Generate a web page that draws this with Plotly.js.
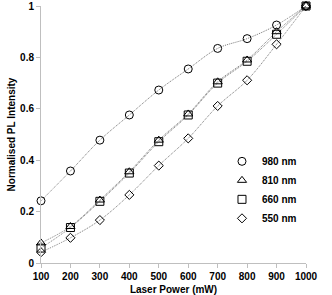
<!DOCTYPE html>
<html>
<head>
<meta charset="utf-8">
<script src="https://cdn.plot.ly/plotly-3.0.1.min.js"></script>
<style>
html,body{margin:0;padding:0;background:#fff;}
#chart{width:332px;height:295px;}
</style>
</head>
<body>
<div id="chart"></div>
<script>
var laserPower = [100, 200, 300, 400, 500, 600, 700, 800, 900, 1000];
var pl980 = [0.242, 0.358, 0.478, 0.576, 0.673, 0.755, 0.835, 0.873, 0.926, 1];
var pl810 = [0.078, 0.142, 0.245, 0.355, 0.478, 0.580, 0.705, 0.790, 0.900, 1];
var pl660 = [0.058, 0.138, 0.240, 0.350, 0.472, 0.576, 0.700, 0.785, 0.890, 1];
var pl550 = [0.042, 0.098, 0.167, 0.265, 0.379, 0.485, 0.611, 0.711, 0.851, 1];
var seriesNames = ['980 nm', '810 nm', '660 nm', '550 nm'];
var xTicks = [100, 200, 300, 400, 500, 600, 700, 800, 900, 1000];
var yTicks = [0, 0.2, 0.4, 0.6, 0.8, 1];
var yTickLabels = ['0', '0.2', '0.4', '0.6', '0.8', '1'];

var allSeries = [pl980, pl810, pl660, pl550];
var symbols = ['circle-open', 'triangle-up-open', 'square-open', 'diamond-open'];
var sizes = [8, 8, 8, 7];

var traces = [];
allSeries.forEach(function (ys) {
  traces.push({
    x: laserPower, y: ys, type: 'scatter', mode: 'lines',
    line: {color: '#777777', width: 1, dash: '1px,1px', shape: 'spline', smoothing: 1},
    showlegend: false, hoverinfo: 'skip'
  });
});
allSeries.forEach(function (ys, i) {
  traces.push({
    x: laserPower, y: ys, type: 'scatter', mode: 'markers', name: seriesNames[i],
    marker: {symbol: symbols[i], size: sizes[i], color: '#000', line: {color: '#000', width: 1}},
    cliponaxis: false
  });
});

var fnt = {family: 'Liberation Sans, Arial, sans-serif', size: 10, color: '#000', weight: 'bold'};

var layout = {
  width: 332, height: 295,
  margin: {l: 41, r: 26, t: 6, b: 32},
  paper_bgcolor: '#fff', plot_bgcolor: '#fff',
  font: fnt,
  showlegend: true,
  legend: {
    x: 0.683, y: 0.452, xanchor: 'left', yanchor: 'top',
    font: {family: 'Liberation Sans, Arial, sans-serif', size: 10, color: '#000', weight: 'bold'},
    bgcolor: 'rgba(0,0,0,0)', itemwidth: 30, tracegroupgap: 0
  },
  xaxis: {
    range: [100, 1000], tickvals: xTicks, ticktext: xTicks.map(String),
    showgrid: false, zeroline: false, showline: true, linecolor: '#bfbfbf', linewidth: 1,
    ticks: 'outside', ticklen: 4, tickcolor: '#bfbfbf', tickfont: fnt,
    title: {text: 'Laser Power (mW)', font: fnt, standoff: 6},
    fixedrange: true
  },
  yaxis: {
    range: [0, 1], tickvals: yTicks, ticktext: yTickLabels,
    showgrid: false, zeroline: false, showline: true, linecolor: '#bfbfbf', linewidth: 1,
    ticks: 'outside', ticklen: 4, tickcolor: '#bfbfbf', tickfont: fnt,
    title: {text: 'Normalised PL Intensity', font: fnt, standoff: 2},
    fixedrange: true
  }
};

Plotly.newPlot('chart', traces, layout, {displayModeBar: false, staticPlot: true});
</script>
</body>
</html>
